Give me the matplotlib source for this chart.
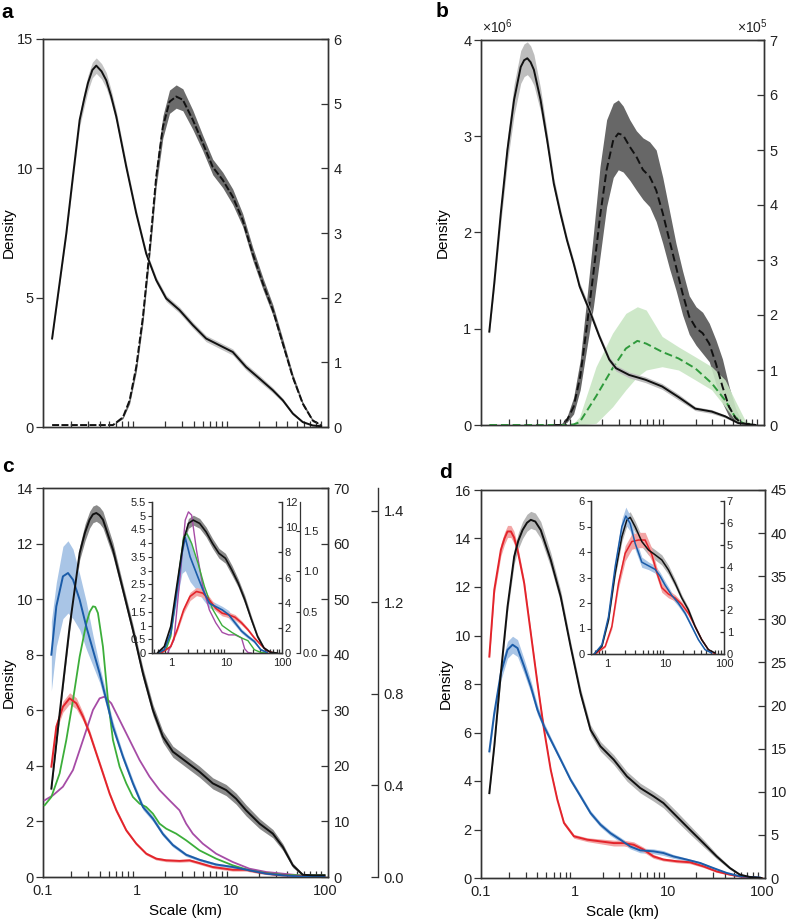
import numpy as np
import matplotlib
matplotlib.use('Agg')
import matplotlib.pyplot as plt
from matplotlib.ticker import LogLocator, FuncFormatter, NullFormatter, FixedLocator, FixedFormatter

plt.rcParams['font.family'] = ['Liberation Sans', 'DejaVu Sans']
plt.rcParams['mathtext.fontset'] = 'custom'
plt.rcParams['mathtext.rm'] = 'Liberation Sans'

# ---------------- data: panel a ----------------
a_solid_x = [0.125, 0.15, 0.177, 0.21, 0.2455, 0.275, 0.301, 0.335, 0.369, 0.42, 0.4716, 0.53, 0.6025,
             0.7695, 0.9828, 1.255, 1.603, 2.047, 2.837, 3.931, 5.446, 7.546, 10.46, 14.49, 20.18,
             27.96, 35.70, 45.59, 58.22, 74.35, 91.4]
a_solid = [3.42, 5.55, 7.48, 9.8, 11.87, 12.7, 13.3, 13.8, 13.97, 13.75, 13.4, 12.8, 12.0, 10.06, 8.26,
           6.7, 5.68, 4.97, 4.52, 3.94, 3.42, 3.16, 2.9, 2.32, 1.87, 1.42, 1.03, 0.52, 0.19, 0.06, 0.03]
a_solid_err = [0.1, 0.12, 0.15, 0.2, 0.25, 0.3, 0.3, 0.3, 0.3, 0.3, 0.3, 0.25, 0.22, 0.18, 0.15, 0.12,
               0.12, 0.12, 0.12, 0.12, 0.12, 0.12, 0.12, 0.12, 0.12, 0.1, 0.08, 0.06, 0.04, 0.03, 0.02]
a_dash_x = [0.125, 0.5554, 0.7093, 0.8349, 0.9828, 1.157, 1.362, 1.603, 1.887, 2.221, 2.615, 3.078,
            3.931, 5.02, 6.411, 8.187, 10.46, 13.35, 17.05, 21.89, 27.96, 35.70, 45.59, 58.22, 74.35, 91.4]
a_dash = [0.03, 0.03, 0.15, 0.41, 0.93, 1.70, 2.73, 3.87, 4.64, 5.03, 5.11, 5.06, 4.75, 4.39, 4.02,
          3.82, 3.56, 3.20, 2.68, 2.22, 1.81, 1.29, 0.77, 0.36, 0.10, 0.03]
a_dash_err = [0, 0, 0.02, 0.05, 0.08, 0.1, 0.12, 0.15, 0.17, 0.18, 0.18, 0.17, 0.15, 0.12, 0.12, 0.12,
              0.12, 0.1, 0.1, 0.09, 0.08, 0.07, 0.05, 0.03, 0.02, 0.0]

# ---------------- data: panel b (left x1e6, right x1e5) ----------------
b_solid_x = [0.1227, 0.1386, 0.163, 0.192, 0.2263, 0.2666, 0.29, 0.3136, 0.34, 0.369, 0.4345, 0.5118,
             0.6025, 0.7093, 0.8349, 0.9828, 1.14, 1.455, 1.857, 2.37, 2.80, 3.87, 5.8, 8.74, 13.1,
             19.8, 29.7, 41.4, 57.3, 87.5]
b_solid = [0.97, 1.47, 2.20, 2.86, 3.38, 3.72, 3.79, 3.81, 3.77, 3.69, 3.38, 2.96, 2.51, 2.20, 1.92,
           1.68, 1.44, 1.19, 0.92, 0.68, 0.59, 0.52, 0.47, 0.40, 0.29, 0.17, 0.14, 0.09, 0.02, 0.0]
b_solid_err = [0.03, 0.06, 0.1, 0.13, 0.16, 0.17, 0.17, 0.17, 0.17, 0.16, 0.12, 0.08, 0.06, 0.05, 0.04,
               0.04, 0.04, 0.04, 0.03, 0.03, 0.03, 0.03, 0.03, 0.03, 0.03, 0.02, 0.02, 0.015, 0.01, 0.0]
b_dash_x = [0.6025, 0.7093, 0.8349, 0.9828, 1.157, 1.362, 1.603, 1.887, 2.221, 2.615, 2.96, 3.339,
            3.931, 4.627, 5.446, 6.411, 7.546, 8.882, 10.46, 12.31, 14.49, 17.05, 20.18, 23.75, 27.96,
            32.91, 38.73, 45.59, 53.66, 63.16, 87.51]
b_dash = [0, 0, 0.09, 0.33, 0.88, 1.79, 2.76, 3.79, 4.64, 5.18, 5.30, 5.27, 5.06, 4.88, 4.64, 4.52,
          4.27, 3.85, 3.36, 2.88, 2.39, 1.97, 1.76, 1.67, 1.48, 1.12, 0.70, 0.33, 0.12, 0.03, 0]
b_dash_lo = [0, 0, 0.05, 0.2, 0.64, 1.4, 2.15, 3.06, 3.97, 4.5, 4.64, 4.6, 4.45, 4.27, 4.1, 3.97, 3.7,
             3.3, 2.85, 2.45, 2.0, 1.65, 1.45, 1.3, 1.15, 0.75, 0.4, 0.15, 0.05, 0.01, 0]
b_dash_hi = [0, 0, 0.15, 0.5, 1.18, 2.3, 3.48, 4.70, 5.55, 5.85, 5.91, 5.8, 5.55, 5.35, 5.22, 5.15,
             5.0, 4.5, 3.9, 3.3, 2.8, 2.35, 2.15, 2.05, 1.85, 1.55, 1.2, 0.7, 0.3, 0.06, 0]
b_green_x = [0.1227, 0.8349, 0.98, 1.14, 1.71, 2.57, 3.57, 4.74, 5.9, 8.74, 13.1, 19.8, 29.7, 41.4,
             52.8, 67.5, 87.5]
b_green = [0, 0, 0.01, 0.05, 0.52, 1.03, 1.39, 1.53, 1.48, 1.33, 1.21, 1.03, 0.76, 0.45, 0.15, 0, 0]
b_green_lo = [0, 0, 0, 0, 0.03, 0.33, 0.64, 0.88, 1.0, 1.06, 1.0, 0.82, 0.64, 0.33, 0.09, 0, 0]
b_green_hi = [0, 0, 0.03, 0.15, 1.06, 1.67, 2.03, 2.15, 2.09, 1.61, 1.42, 1.24, 1.06, 0.82, 0.45, 0.09, 0]

# ---------------- data: panel c ----------------
c_black_x = [0.1227, 0.1504, 0.192, 0.2455, 0.28, 0.3136, 0.34, 0.369, 0.40, 0.4345, 0.5554, 0.7093,
             0.9058, 1.157, 1.478, 1.887, 2.41, 3.339, 4.627, 6.411, 8.882, 11.34, 14.49, 20.18, 27.96,
             35.70, 45.59, 58.22, 74.35, 99.1]
c_black = [3.18, 5.89, 9.01, 11.66, 12.4, 12.86, 13.05, 13.1, 13.02, 12.86, 11.78, 10.34, 8.89, 7.33,
           6.01, 5.05, 4.51, 4.15, 3.79, 3.37, 3.13, 2.82, 2.40, 1.92, 1.56, 1.08, 0.42, 0.08, 0.06, 0.06]
c_black_err = [0.1, 0.15, 0.2, 0.25, 0.3, 0.3, 0.3, 0.3, 0.3, 0.3, 0.25, 0.2, 0.2, 0.2, 0.2, 0.2, 0.2,
               0.2, 0.2, 0.2, 0.2, 0.2, 0.2, 0.18, 0.15, 0.12, 0.08, 0.04, 0.02, 0.02]
c_blue_x = [0.1227, 0.1386, 0.163, 0.1845, 0.2086, 0.2455, 0.2891, 0.3402, 0.4005, 0.4716, 0.5554,
            0.7093, 0.9058, 1.157, 1.478, 1.887, 2.41, 3.339, 4.627, 6.955, 10.46, 15.72, 23.75, 35.70,
            53.66, 99.1]
c_blue = [8.0, 9.74, 10.82, 10.94, 10.70, 9.98, 9.01, 8.17, 7.33, 6.37, 5.41, 4.33, 3.37, 2.52, 2.10,
          1.55, 1.15, 0.80, 0.62, 0.45, 0.36, 0.24, 0.12, 0.06, 0.02, 0.0]
c_blue_lo = [6.7, 8.3, 9.3, 9.5, 9.3, 8.9, 8.2, 7.6, 7.0, 6.15, 5.25, 4.2, 3.25, 2.42, 2.0, 1.47, 1.08,
             0.74, 0.57, 0.40, 0.31, 0.2, 0.09, 0.03, 0.0, 0.0]
c_blue_hi = [9.2, 10.6, 11.9, 12.1, 11.8, 10.9, 9.9, 8.7, 7.6, 6.6, 5.6, 4.46, 3.5, 2.62, 2.2, 1.63,
             1.22, 0.86, 0.67, 0.5, 0.41, 0.28, 0.15, 0.09, 0.05, 0.02]
c_red_x = [0.1227, 0.1386, 0.163, 0.192, 0.2263, 0.2666, 0.3136, 0.369, 0.4345, 0.5118, 0.6025, 0.7695,
           0.9828, 1.255, 1.603, 2.047, 2.837, 3.623, 4.627, 6.411, 10.46, 14.49, 20.18, 30.33, 45.59, 99.1]
c_red = [3.97, 5.41, 6.13, 6.43, 6.25, 5.77, 5.17, 4.45, 3.73, 3.00, 2.40, 1.68, 1.20, 0.84, 0.66, 0.60,
         0.58, 0.60, 0.50, 0.36, 0.26, 0.26, 0.16, 0.08, 0.04, 0.0]
c_red_err = [0.1, 0.15, 0.2, 0.2, 0.2, 0.15, 0.12, 0.1, 0.1, 0.08, 0.08, 0.06, 0.05, 0.05, 0.05, 0.05,
             0.05, 0.05, 0.05, 0.05, 0.05, 0.05, 0.04, 0.03, 0.02, 0.0]
c_green_x = [0.104, 0.1227, 0.1504, 0.177, 0.2086, 0.2455, 0.2891, 0.315, 0.3402, 0.36, 0.3843, 0.4345,
             0.4914, 0.5554, 0.6537, 0.7695, 0.9058, 1.066, 1.255, 1.478, 1.739, 2.047, 2.615, 3.339,
             4.627, 6.955, 10.46, 15.72, 23.75, 35.70, 53.66, 99.1]
c_green = [2.58, 2.88, 3.73, 4.93, 6.37, 7.93, 9.13, 9.55, 9.74, 9.72, 9.5, 8.29, 6.37, 4.93, 3.97,
           3.37, 2.88, 2.64, 2.52, 2.28, 1.92, 1.74, 1.56, 1.32, 0.96, 0.66, 0.42, 0.24, 0.14, 0.08,
           0.06, 0.06]
c_purple_x = [0.104, 0.1277, 0.163, 0.2086, 0.2666, 0.3402, 0.4005, 0.4527, 0.5332, 0.6537, 0.8349,
              1.066, 1.362, 1.739, 2.221, 2.837, 3.339, 3.931, 5.02, 6.955, 10.46, 15.72, 23.75, 35.70,
              53.66, 99.1]
c_purple = [2.76, 2.94, 3.25, 3.85, 4.93, 6.01, 6.43, 6.49, 6.25, 5.65, 4.93, 4.21, 3.61, 3.13, 2.76,
            2.40, 1.92, 1.56, 1.20, 0.84, 0.54, 0.30, 0.18, 0.12, 0.06, 0.06]

# inset c
ci_black_x = [0.587, 0.766, 1.0, 1.305, 1.703, 2.079, 2.539, 3.31, 4.32, 5.64, 7.36, 9.61, 12.54,
              16.37, 21.35, 27.87, 36.37, 47.46, 61.9, 80.8]
ci_black = [0.02, 0.24, 0.97, 2.54, 4.11, 4.72, 4.84, 4.72, 4.41, 3.99, 3.63, 3.45, 3.02, 2.54, 1.95,
            1.25, 0.6, 0.18, 0.03, 0.0]
ci_black_err = [0, 0.02, 0.05, 0.1, 0.15, 0.18, 0.18, 0.18, 0.18, 0.18, 0.18, 0.18, 0.18, 0.15, 0.15,
                0.12, 0.08, 0.05, 0.02, 0]
ci_blue_x = [0.587, 0.766, 1.0, 1.305, 1.593, 1.82, 2.222, 2.90, 3.78, 4.94, 6.44, 8.41, 10.97, 14.33,
             18.70, 24.39, 31.84, 41.54, 54.2]
ci_blue = [0, 0.12, 0.73, 2.30, 3.63, 4.2, 3.51, 2.90, 2.30, 1.81, 1.69, 1.57, 1.40, 1.10, 0.80, 0.60,
           0.42, 0.12, 0.02]
ci_blue_lo = [0, 0.1, 0.65, 2.0, 2.9, 3.0, 2.6, 2.3, 1.95, 1.65, 1.55, 1.45, 1.27, 1.0, 0.72, 0.53,
              0.36, 0.08, 0]
ci_blue_hi = [0, 0.14, 0.8, 2.6, 3.9, 4.5, 4.2, 3.4, 2.55, 1.95, 1.82, 1.7, 1.55, 1.2, 0.88, 0.67,
              0.48, 0.16, 0.04]
ci_green_x = [0.587, 0.819, 1.0, 1.305, 1.703, 1.945, 2.375, 3.10, 4.04, 5.64, 8.41, 12.54, 18.70,
              24.39, 31.84, 41.54, 54.2]
ci_green = [0, 0.12, 0.6, 2.42, 4.23, 4.35, 3.99, 3.26, 2.42, 1.60, 1.0, 0.75, 0.55, 0.45, 0.12, 0.02, 0]
ci_purple_x = [0.875, 1.142, 1.491, 1.82, 2.079, 2.375, 2.90, 3.78, 4.94, 6.44, 8.41, 10.97, 14.33,
               18.70, 21.35, 24.39, 27.87]
ci_purple = [0, 0.48, 2.90, 4.84, 5.14, 5.02, 3.75, 2.42, 1.57, 1.1, 0.75, 0.66, 0.66, 0.55, 0.15,
             0.02, 0]
ci_red_x = [0.671, 1.0, 1.305, 1.703, 2.222, 2.90, 3.78, 4.94, 6.44, 8.41, 10.97, 14.33, 18.70, 24.39,
            31.84, 41.54, 54.2, 70.0]
ci_red = [0, 0.24, 0.85, 1.57, 2.06, 2.24, 2.18, 1.93, 1.63, 1.45, 1.39, 1.30, 1.10, 0.85, 0.55, 0.30,
          0.08, 0]
ci_red_err = [0, 0.03, 0.08, 0.12, 0.15, 0.15, 0.15, 0.12, 0.1, 0.1, 0.1, 0.1, 0.08, 0.06, 0.05, 0.03,
              0.02, 0]

# ---------------- data: panel d ----------------
d_black_x = [0.1227, 0.1386, 0.163, 0.192, 0.2263, 0.25, 0.278, 0.31, 0.3402, 0.38, 0.4345, 0.5554,
             0.7093, 0.9058, 1.157, 1.478, 1.887, 2.615, 3.623, 5.02, 6.955, 8.882, 12.31, 17.05, 23.75,
             32.91, 45.59, 58.22, 74.35, 99.1]
d_black = [3.50, 5.43, 8.45, 11.19, 13.26, 13.9, 14.35, 14.65, 14.77, 14.7, 14.35, 13.12, 11.61, 9.55,
           7.62, 6.11, 5.43, 4.88, 4.19, 3.71, 3.37, 3.09, 2.54, 1.99, 1.44, 0.89, 0.41, 0.14, 0.04, 0.0]
d_black_err = [0.1, 0.15, 0.2, 0.25, 0.3, 0.33, 0.35, 0.35, 0.35, 0.35, 0.35, 0.3, 0.25, 0.2, 0.2, 0.2,
               0.2, 0.2, 0.2, 0.2, 0.2, 0.2, 0.2, 0.18, 0.15, 0.1, 0.06, 0.03, 0.02, 0]
d_red_x = [0.1227, 0.1386, 0.163, 0.178, 0.192, 0.2086, 0.225, 0.2455, 0.2891, 0.3402, 0.4005, 0.4716,
           0.5554, 0.6537, 0.7695, 0.9828, 1.362, 1.887, 2.615, 3.339, 4.277, 5.446, 6.955, 8.882,
           12.31, 17.05, 23.75, 32.91, 45.59, 63.16, 99.1]
d_red = [9.13, 11.88, 13.53, 14.0, 14.29, 14.29, 14.05, 13.53, 12.16, 10.1, 8.04, 6.11, 4.46, 3.23,
         2.27, 1.72, 1.58, 1.51, 1.44, 1.44, 1.37, 1.17, 0.89, 0.76, 0.69, 0.65, 0.48, 0.27, 0.14, 0.04,
         0.0]
d_red_err = [0.15, 0.2, 0.25, 0.25, 0.25, 0.25, 0.25, 0.2, 0.15, 0.12, 0.1, 0.08, 0.08, 0.08, 0.08,
             0.08, 0.08, 0.1, 0.12, 0.12, 0.12, 0.1, 0.08, 0.06, 0.06, 0.06, 0.05, 0.04, 0.03, 0.02, 0]
d_blue_x = [0.1227, 0.1386, 0.163, 0.192, 0.2173, 0.2455, 0.2891, 0.3402, 0.4005, 0.4716, 0.5554,
            0.7093, 0.9058, 1.157, 1.478, 1.887, 2.41, 3.078, 3.931, 5.02, 6.955, 8.882, 11.34, 15.72,
            21.89, 30.33, 42.02, 58.22, 94.9]
d_blue = [5.22, 6.80, 8.45, 9.41, 9.62, 9.48, 8.72, 7.90, 6.94, 6.25, 5.70, 4.88, 4.05, 3.37, 2.68,
          2.20, 1.85, 1.58, 1.30, 1.14, 1.10, 1.03, 0.89, 0.76, 0.62, 0.41, 0.21, 0.07, 0.02]
d_blue_err = [0.15, 0.2, 0.3, 0.35, 0.35, 0.35, 0.3, 0.25, 0.2, 0.15, 0.12, 0.1, 0.1, 0.1, 0.1, 0.1,
              0.1, 0.1, 0.1, 0.1, 0.1, 0.1, 0.08, 0.06, 0.05, 0.04, 0.03, 0.02, 0]

# inset d
di_black_x = [0.591, 0.8, 1.040, 1.353, 1.761, 2.144, 2.446, 2.979, 3.877, 5.045, 6.565, 8.54, 11.11,
              14.46, 18.81, 24.48, 31.85, 41.44, 53.93, 70.2]
di_black = [0, 0.3, 1.34, 3.17, 4.60, 5.25, 5.36, 4.99, 4.41, 4.08, 3.89, 3.69, 3.30, 2.78, 2.2, 1.73,
            1.08, 0.56, 0.17, 0.04]
di_black_err = [0, 0.03, 0.08, 0.15, 0.2, 0.22, 0.22, 0.22, 0.2, 0.2, 0.2, 0.2, 0.18, 0.15, 0.12, 0.1,
                0.08, 0.05, 0.03, 0]
di_blue_x = [0.591, 0.8, 1.040, 1.353, 1.761, 2.062, 2.446, 2.979, 3.877, 5.045, 6.565, 8.0, 9.74,
             12.67, 16.49, 21.46, 27.92, 36.33, 47.27, 61.5]
di_blue = [0, 0.36, 1.47, 3.43, 4.99, 5.41, 5.12, 4.34, 3.6, 3.46, 3.32, 3.05, 2.7, 2.3, 1.99, 1.60,
           1.08, 0.56, 0.17, 0.04]
di_blue_err = [0, 0.04, 0.1, 0.2, 0.3, 0.35, 0.3, 0.25, 0.2, 0.15, 0.15, 0.15, 0.15, 0.12, 0.12, 0.1,
               0.08, 0.05, 0.03, 0]
di_red_x = [0.615, 0.912, 1.186, 1.543, 2.009, 2.612, 3.399, 4.423, 5.755, 7.011, 8.54, 11.11, 14.46,
            18.81, 24.48, 31.85, 41.44, 53.93, 70.2]
di_red = [0, 0.3, 1.08, 2.78, 3.95, 4.41, 4.47, 4.47, 3.9, 3.2, 2.6, 2.35, 2.2, 1.95, 1.60, 1.08, 0.56,
          0.17, 0]
di_red_err = [0, 0.04, 0.1, 0.2, 0.3, 0.3, 0.3, 0.3, 0.25, 0.2, 0.18, 0.15, 0.12, 0.1, 0.08, 0.06,
              0.04, 0.02, 0]

# ---------------- tick values / labels ----------------
x_major = [0.1, 1, 10, 100]
a_left_ticks = [0, 5, 10, 15]
a_right_ticks = [0, 1, 2, 3, 4, 5, 6]
b_left_ticks = [0, 1, 2, 3, 4]
b_right_ticks = [0, 1, 2, 3, 4, 5, 6, 7]
c_left_ticks = [0, 2, 4, 6, 8, 10, 12, 14]
c_right_ticks = [0, 10, 20, 30, 40, 50, 60, 70]
c_third_ticks = [0.0, 0.4, 0.8, 1.2, 1.6]
c_third_labels = ['0.0', '0.4', '0.8', '1.2', '1.4']
d_left_ticks = [0, 2, 4, 6, 8, 10, 12, 14, 16]
d_right_ticks = [0, 5, 10, 15, 20, 25, 30, 35, 40, 45]
ci_left_ticks = [0, 0.5, 1, 1.5, 2, 2.5, 3, 3.5, 4, 4.5, 5, 5.5]
ci_right_ticks = [0, 2, 4, 6, 8, 10, 12]
ci_right2_ticks = [0.0, 0.5, 1.0, 1.5]
ci_right2_labels = ['0.0', '0.5', '1.0', '1.5']
di_left_ticks = [0, 1, 2, 3, 4, 5, 6]
di_right_ticks = [0, 1, 2, 3, 4, 5, 6, 7]

# ---------------- styles ----------------
BLACK = '#111111'
RED = '#e3242b'
BLUE = '#1b5ca8'
GREEN = '#3cae3a'
PURPLE = '#a64ca6'
GREEN_D = '#2f9a3c'
SPINE = '#333333'
FS = 10.5
FS_IN = 8
W, H = 788, 921

fig = plt.figure(figsize=(W / 100, H / 100), dpi=100)


def rect(l, r, t, b):
    return [l / W, 1 - b / H, (r - l) / W, (b - t) / H]


def fmt(v, p):
    return '%g' % v


def style_spines(ax, lw=1.0):
    for s in ax.spines.values():
        s.set_linewidth(lw)
        s.set_color(SPINE)


def setup_logx(ax, xlim, labels, fs, minor_len):
    ax.set_xscale('log')
    ax.set_xlim(*xlim)
    ax.xaxis.set_major_locator(FixedLocator(x_major))
    ax.xaxis.set_minor_locator(LogLocator(base=10, subs=np.arange(2, 10) * 1.0, numticks=100))
    ax.xaxis.set_minor_formatter(NullFormatter())
    if labels:
        ax.xaxis.set_major_formatter(FuncFormatter(fmt))
    else:
        ax.xaxis.set_major_formatter(NullFormatter())
    ax.tick_params(axis='x', which='major', length=0, pad=5, labelsize=fs, colors='#222222')
    ax.tick_params(axis='x', which='minor', direction='in', length=minor_len, width=0.9, color=SPINE)


def main_axes(r, ylim, yticks, labels):
    ax = fig.add_axes(rect(*r))
    setup_logx(ax, (0.1, 108), labels, FS, 4)
    ax.set_ylim(*ylim)
    ax.set_yticks(yticks)
    ax.yaxis.set_major_formatter(FuncFormatter(fmt))
    ax.tick_params(axis='y', direction='out', length=5, width=0.9, pad=2, labelsize=FS,
                   colors='#222222', color=SPINE)
    style_spines(ax)
    return ax


def right_axes(ax, ylim, yticks, fs=FS, length=5, pad=4):
    t = ax.twinx()
    t.set_ylim(*ylim)
    t.set_yticks(yticks)
    t.yaxis.set_major_formatter(FuncFormatter(fmt))
    t.tick_params(axis='y', direction='in', length=length, width=0.9, pad=pad, labelsize=fs,
                  colors='#222222', color=SPINE)
    style_spines(t)
    return t


def sym_band(ax, x, y, e, color, z=1):
    y = np.asarray(y)
    e = np.asarray(e)
    ax.fill_between(x, y - e, y + e, color=color, lw=0, zorder=z)


# ---------------- panel a ----------------
axA = main_axes((43, 328, 39, 427), (0, 15), a_left_ticks, False)
axA2 = right_axes(axA, (0, 6), a_right_ticks)
axA.set_zorder(axA2.get_zorder() + 1)
axA.patch.set_visible(False)
sym_band(axA2, a_dash_x, a_dash, a_dash_err, '#6b6b6b')
axA2.plot(a_dash_x, a_dash, color=BLACK, lw=1.4, dashes=(3.6, 1.2), zorder=3)
sym_band(axA, a_solid_x, a_solid, a_solid_err, '#c4c4c4')
axA.plot(a_solid_x, a_solid, color=BLACK, lw=1.4, zorder=3)
axA.set_ylabel('Density', fontsize=11)
axA.yaxis.set_label_coords(-0.095, 0.5)

# ---------------- panel b ----------------
axB = main_axes((481, 764, 40, 425), (0, 4), b_left_ticks, False)
axB2 = right_axes(axB, (0, 7), b_right_ticks)
axB.set_zorder(axB2.get_zorder() + 1)
axB.patch.set_visible(False)
axB2.fill_between(b_dash_x, b_dash_lo, b_dash_hi, color='#676767', lw=0, zorder=1)
axB2.fill_between(b_green_x, b_green_lo, b_green_hi, color='#c9e6c4', lw=0, alpha=0.9, zorder=1)
axB2.plot(b_green_x, b_green, color=GREEN_D, lw=1.4, dashes=(4.0, 2.0), zorder=3)
axB2.plot(b_dash_x, b_dash, color=BLACK, lw=1.4, dashes=(4.0, 2.0), zorder=3)
sym_band(axB, b_solid_x, b_solid, b_solid_err, '#bdbdbd')
axB.plot(b_solid_x, b_solid, color=BLACK, lw=1.4, zorder=3)
axB.set_ylabel('Density', fontsize=11)
axB.yaxis.set_label_coords(-0.11, 0.5)
fig.text(482 / W, 1 - 33 / H, r'$\times10^{6}$', fontsize=10, color='#222222')
fig.text(768 / W, 1 - 33 / H, r'$\times10^{5}$', fontsize=10, color='#222222', ha='right')

# ---------------- panel c ----------------
axC = main_axes((43, 328, 488, 877), (0, 14), c_left_ticks, True)
axC2 = right_axes(axC, (0, 70), c_right_ticks)
axC3 = axC.twinx()
axC3.set_ylim(0, 1.70)
axC3.spines['right'].set_position(('axes', (378 - 43) / (328 - 43)))
for s in ('left', 'top', 'bottom'):
    axC3.spines[s].set_visible(False)
axC3.spines['right'].set_linewidth(1.0)
axC3.spines['right'].set_color(SPINE)
axC3.yaxis.set_major_locator(FixedLocator(c_third_ticks))
axC3.yaxis.set_major_formatter(FixedFormatter(c_third_labels))
axC3.tick_params(axis='y', direction='in', length=5, width=0.9, pad=4, labelsize=FS,
                 colors='#222222', color=SPINE)
axC.set_zorder(axC3.get_zorder() + 1)
axC.patch.set_visible(False)
sym_band(axC, c_black_x, c_black, c_black_err, '#8a8a8a')
axC.fill_between(c_blue_x, c_blue_lo, c_blue_hi, color='#a9c5e6', lw=0, zorder=1)
sym_band(axC, c_red_x, c_red, c_red_err, '#f3a5a5')
axC.plot(c_purple_x, c_purple, color=PURPLE, lw=1.3, zorder=3)
axC.plot(c_green_x, c_green, color=GREEN, lw=1.3, zorder=3)
axC.plot(c_red_x, c_red, color=RED, lw=1.4, zorder=3)
axC.plot(c_blue_x, c_blue, color=BLUE, lw=1.4, zorder=3)
axC.plot(c_black_x, c_black, color=BLACK, lw=1.4, zorder=4)
axC.set_ylabel('Density', fontsize=11)
axC.yaxis.set_label_coords(-0.095, 0.5)
axC.set_xlabel('Scale (km)', fontsize=11, labelpad=4)

# inset c
axCi = fig.add_axes(rect(152, 282, 502, 653))
axCi.set_zorder(10)
setup_logx(axCi, (0.46, 100), True, FS_IN, 3)
axCi.tick_params(axis='x', which='major', pad=3.5)
axCi.set_ylim(0, 5.5)
axCi.set_yticks(ci_left_ticks)
axCi.yaxis.set_major_formatter(FuncFormatter(fmt))
axCi.tick_params(axis='y', direction='out', length=3, width=0.8, pad=1.5, labelsize=FS_IN,
                 colors='#222222', color=SPINE)
style_spines(axCi, 0.9)
axCi.spines['top'].set_visible(False)
axCi.patch.set_visible(False)
axCi2 = right_axes(axCi, (0, 12), ci_right_ticks, fs=FS_IN, length=3, pad=2)
axCi2.set_zorder(11)
axCi2.spines['top'].set_visible(False)
axCi2.spines['right'].set_linewidth(0.9)
axCi3 = axCi.twinx()
axCi3.set_zorder(11)
axCi3.set_ylim(0, 1.852)
axCi3.spines['right'].set_position(('axes', (300 - 152) / (282 - 152)))
for s in ('left', 'top', 'bottom'):
    axCi3.spines[s].set_visible(False)
axCi3.spines['right'].set_linewidth(0.9)
axCi3.spines['right'].set_color(SPINE)
axCi3.yaxis.set_major_locator(FixedLocator(ci_right2_ticks))
axCi3.yaxis.set_major_formatter(FixedFormatter(ci_right2_labels))
axCi3.tick_params(axis='y', direction='in', length=3, width=0.8, pad=2, labelsize=FS_IN,
                  colors='#222222', color=SPINE)
sym_band(axCi, ci_black_x, ci_black, ci_black_err, '#8a8a8a')
axCi.fill_between(ci_blue_x, ci_blue_lo, ci_blue_hi, color='#a9c5e6', lw=0, zorder=1)
sym_band(axCi, ci_red_x, ci_red, ci_red_err, '#f3a5a5')
axCi.plot(ci_purple_x, ci_purple, color=PURPLE, lw=1.0, zorder=3)
axCi.plot(ci_green_x, ci_green, color=GREEN, lw=1.0, zorder=3)
axCi.plot(ci_red_x, ci_red, color=RED, lw=1.2, zorder=3)
axCi.plot(ci_blue_x, ci_blue, color=BLUE, lw=1.2, zorder=3)
axCi.plot(ci_black_x, ci_black, color=BLACK, lw=1.2, zorder=4)

# ---------------- panel d ----------------
axD = main_axes((481, 765, 490, 878), (0, 16), d_left_ticks, True)
axD2 = right_axes(axD, (0, 45), d_right_ticks)
axD.set_zorder(axD2.get_zorder() + 1)
axD.patch.set_visible(False)
sym_band(axD, d_black_x, d_black, d_black_err, '#b5b5b5')
sym_band(axD, d_blue_x, d_blue, d_blue_err, '#a9c5e6')
sym_band(axD, d_red_x, d_red, d_red_err, '#f3a5a5')
axD.plot(d_red_x, d_red, color=RED, lw=1.4, zorder=3)
axD.plot(d_blue_x, d_blue, color=BLUE, lw=1.4, zorder=3)
axD.plot(d_black_x, d_black, color=BLACK, lw=1.4, zorder=4)
axD.set_ylabel('Density', fontsize=11)
axD.yaxis.set_label_coords(-0.099, 0.5)
axD.set_xlabel('Scale (km)', fontsize=11, labelpad=4)

# inset d
axDi = fig.add_axes(rect(591, 724, 501, 654))
axDi.set_zorder(10)
setup_logx(axDi, (0.52, 100), True, FS_IN, 3)
axDi.tick_params(axis='x', which='major', pad=3.5)
axDi.set_ylim(0, 6)
axDi.set_yticks(di_left_ticks)
axDi.yaxis.set_major_formatter(FuncFormatter(fmt))
axDi.tick_params(axis='y', direction='out', length=3, width=0.8, pad=1.5, labelsize=FS_IN,
                 colors='#222222', color=SPINE)
style_spines(axDi, 0.9)
axDi.spines['top'].set_visible(False)
axDi.patch.set_visible(False)
axDi2 = right_axes(axDi, (0, 7), di_right_ticks, fs=FS_IN, length=3, pad=2)
axDi2.set_zorder(11)
axDi2.spines['top'].set_visible(False)
axDi2.spines['right'].set_linewidth(0.9)
sym_band(axDi, di_black_x, di_black, di_black_err, '#b5b5b5')
sym_band(axDi, di_blue_x, di_blue, di_blue_err, '#a9c5e6')
sym_band(axDi, di_red_x, di_red, di_red_err, '#f3a5a5')
axDi.plot(di_red_x, di_red, color=RED, lw=1.1, zorder=3)
axDi.plot(di_black_x, di_black, color=BLACK, lw=1.1, zorder=4)
axDi.plot(di_blue_x, di_blue, color=BLUE, lw=1.1, zorder=4)

# ---------------- panel letters ----------------
for lx, ly, s in ((1, 18, 'a'), (436, 17, 'b'), (2, 472, 'c'), (439, 478, 'd')):
    fig.text(lx / W, 1 - ly / H, s, fontsize=15, fontweight='bold', va='baseline', ha='left')

fig.savefig('out.png', dpi=100)
